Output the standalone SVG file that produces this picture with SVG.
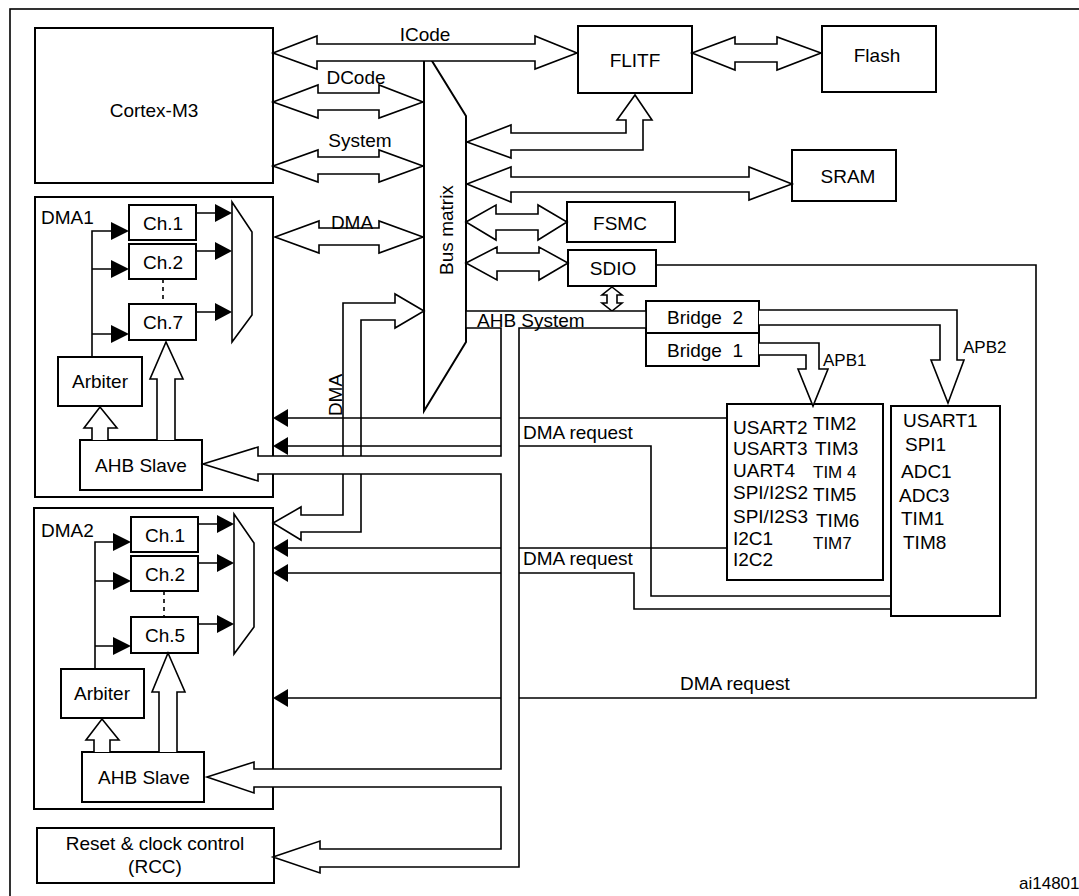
<svg xmlns="http://www.w3.org/2000/svg" width="1079" height="896" viewBox="0 0 1079 896">
<style>
.b{fill:#fff;stroke:#000;stroke-width:2}
.a{fill:#fff;stroke:#000;stroke-width:1.6;stroke-linejoin:miter}
.l{fill:none;stroke:#000;stroke-width:1.6}
.h{fill:#000;stroke:none}
text{font-family:"Liberation Sans",Arial,sans-serif;font-size:19px;fill:#000;dominant-baseline:central}
.c{text-anchor:middle}
.s{font-size:17px}
</style>
<rect x="0" y="0" width="1079" height="896" fill="#fff"/>
<rect x="10" y="9" width="1100" height="1000" class="l" stroke-width="2"/>

<g id="cortex"><rect x="35" y="28" width="238" height="155" class="b"/><text x="154" y="110" class="c">Cortex-M3</text></g>
<g id="flitf"><rect x="578" y="26" width="114" height="67" class="b"/><text x="635" y="60" class="c">FLITF</text></g>
<g id="flash"><rect x="822" y="26" width="114" height="66" class="b"/><text x="877" y="55" class="c">Flash</text></g>
<g id="sram"><rect x="792" y="150" width="104" height="51" class="b"/><text x="848" y="176" class="c">SRAM</text></g>
<g id="fsmc"><rect x="567" y="202" width="108" height="40" class="b"/><text x="620" y="223" class="c">FSMC</text></g>
<g id="sdio"><rect x="568" y="250" width="88" height="36" class="b"/><text x="613" y="268" class="c">SDIO</text></g>
<g id="busmatrix"><polygon points="424,48 466,116 466,342 424,411" class="b" stroke-width="1.6"/><text transform="translate(446,230) rotate(-90)" class="c">Bus matrix</text></g>
<g id="bridge2"><rect x="646" y="301" width="113" height="32" class="b"/><text x="705" y="317" class="c" style="white-space:pre">Bridge  2</text></g>
<g id="bridge1"><rect x="646" y="333" width="113" height="33" class="b"/><text x="705" y="350" class="c" style="white-space:pre">Bridge  1</text></g>

<g id="apb1box"><rect x="727" y="404" width="156" height="176" class="b"/>
<text x="733" y="427">USART2</text><text x="733" y="448">USART3</text><text x="733" y="470">UART4</text><text x="733" y="492">SPI/I2S2</text><text x="733" y="516">SPI/I2S3</text><text x="733" y="538">I2C1</text><text x="733" y="559">I2C2</text>
<text x="813" y="423">TIM2</text><text x="815" y="448">TIM3</text><text x="813" y="472" class="s">TIM 4</text><text x="813" y="494">TIM5</text><text x="816" y="520">TIM6</text><text x="813" y="543" class="s">TIM7</text></g>
<g id="apb2box"><rect x="891" y="406" width="109" height="210" class="b"/>
<text x="903" y="420">USART1</text><text x="905" y="444">SPI1</text><text x="901" y="471">ADC1</text><text x="899" y="495">ADC3</text><text x="901" y="518">TIM1</text><text x="903" y="542">TIM8</text></g>

<g id="dma1"><rect x="35" y="197" width="238" height="300" class="b"/>
<text x="41" y="217">DMA1</text>
<rect x="129" y="205" width="67" height="35" class="b"/><text x="163" y="223" class="c">Ch.1</text>
<rect x="129" y="244" width="67" height="35" class="b"/><text x="163" y="262" class="c">Ch.2</text>
<rect x="129" y="304" width="67" height="36" class="b"/><text x="163" y="322" class="c">Ch.7</text>
<line x1="163" y1="279" x2="163" y2="304" class="l" stroke-dasharray="4,4"/>
<polygon points="232,202 252,232 252,315 232,342" class="a"/>
<rect x="58" y="357" width="84" height="49" class="b"/><text x="100" y="381" class="c">Arbiter</text>
<rect x="80" y="440" width="122" height="50" class="b"/><text x="141" y="465" class="c">AHB Slave</text>
<path d="M92,357V231H112M92,269H112M92,334H112" class="l"/>
<polygon points="111,222 129,231 111,240" class="h"/><polygon points="111,260 129,269 111,278" class="h"/><polygon points="111,325 129,334 111,343" class="h"/>
<path d="M196,213H216M196,251H216M196,312H216" class="l"/>
<polygon points="215,204 232,213 215,222" class="h"/><polygon points="215,242 232,251 215,260" class="h"/><polygon points="215,303 232,312 215,321" class="h"/>
<path d="M92,440V428H84L100,407L117,428H108V440" class="a"/>
<path d="M157,440V379H150L166,342L183,379H175V440" class="a"/>
</g>

<g id="dma2"><rect x="34" y="508" width="239" height="301" class="b"/>
<text x="41" y="530">DMA2</text>
<rect x="131" y="517" width="67" height="35" class="b"/><text x="165" y="535" class="c">Ch.1</text>
<rect x="131" y="556" width="67" height="35" class="b"/><text x="165" y="574" class="c">Ch.2</text>
<rect x="131" y="617" width="67" height="36" class="b"/><text x="165" y="635" class="c">Ch.5</text>
<line x1="164" y1="591" x2="164" y2="617" class="l" stroke-dasharray="4,4"/>
<polygon points="234,514 254,543 254,627 234,654" class="a"/>
<rect x="61" y="669" width="83" height="49" class="b"/><text x="102" y="693" class="c">Arbiter</text>
<rect x="82" y="752" width="122" height="50" class="b"/><text x="144" y="777" class="c">AHB Slave</text>
<path d="M95,669V542H114M95,581H114M95,646H114" class="l"/>
<polygon points="113,533 131,542 113,551" class="h"/><polygon points="113,572 131,581 113,590" class="h"/><polygon points="113,637 131,646 113,655" class="h"/>
<path d="M198,524H218M198,563H218M198,624H218" class="l"/>
<polygon points="217,515 234,524 217,533" class="h"/><polygon points="217,554 234,563 217,572" class="h"/><polygon points="217,615 234,624 217,633" class="h"/>
<path d="M94,752V740H86L102,719L119,740H110V752" class="a"/>
<path d="M159,752V692H152L168,653L185,692H177V752" class="a"/>
</g>

<g id="rcc"><rect x="37" y="828" width="237" height="55" class="b"/><text x="155" y="843" class="c">Reset &amp; clock control</text><text x="155" y="866" class="c">(RCC)</text></g>

<g id="connectors">
<polygon points="273,53 317,36 317,44 535,44 535,36 577,53 535,69 535,61 317,61 317,69" class="a"/>
<polygon points="273,102 318,85 318,93 379,93 379,85 423,102 379,118 379,110 318,110 318,118" class="a"/>
<polygon points="273,166 318,150 318,157 379,157 379,150 423,166 379,182 379,174 318,174 318,182" class="a"/>
<polygon points="275,237 319,221 319,228 379,228 379,221 423,237 379,253 379,245 319,245 319,253" class="a"/>
<polygon points="692,53 735,37 735,44 777,44 777,37 821,53 777,70 777,62 735,62 735,70" class="a"/>
<polygon points="467,142 511,125 511,133 626,133 626,120 617,120 635,95 652,120 643,120 643,150 511,150 511,158" class="a"/>
<polygon points="467,184 511,167 511,177 749,177 749,167 792,184 749,200 749,192 511,192 511,202" class="a"/>
<polygon points="466,222 496,205 496,214 538,214 538,205 567,222 538,240 538,230 496,230 496,240" class="a"/>
<polygon points="466,263 497,247 497,253 539,253 539,247 568,263 539,280 539,271 497,271 497,280" class="a"/>
<polygon points="612,287 622,295 617,295 617,303 622,303 612,311 602,303 607,303 607,295 602,295" class="a"/>
<path d="M424,311L395,294V303H343V515H301V507L273,523L301,540V532H361V320H395V328Z" class="a"/>
<path d="M727,418H287M891,596H651V446H287M727,548H287M891,609H634V573H287M656,265H1036V698H287" class="l"/>
<polygon points="273,418 288,409 288,427" class="h"/><polygon points="273,446 288,437 288,455" class="h"/>
<polygon points="273,548 288,539 288,557" class="h"/><polygon points="273,573 288,564 288,582" class="h"/>
<polygon points="273,698 288,689 288,707" class="h"/>
<path d="M466,311H646V328H519V867H320V873L273,857L320,841V849H501V787H254V793L207,777L254,762V769H501V474H258V481L203,464L258,447V456H501V328H466Z" class="a"/>
<path d="M759,343H819V369H828L813,406L798,369H806V355H759" class="a"/>
<path d="M759,310H957V360H964L948,403L931,360H940V325H759" class="a"/>
</g>

<g id="labels">
<text x="425" y="34" class="c">ICode</text>
<text x="356" y="77" class="c">DCode</text>
<text x="360" y="140" class="c">System</text>
<text x="352" y="222" class="c">DMA</text>
<text transform="translate(335,395) rotate(-90)" class="c">DMA</text>
<text x="477" y="320">AHB System</text>
<text x="823" y="360" class="s">APB1</text>
<text x="963" y="347" class="s">APB2</text>
<text x="523" y="432">DMA request</text>
<text x="523" y="558">DMA request</text>
<text x="680" y="683">DMA request</text>
<text x="1019" y="883" class="s">ai14801</text>
</g>
</svg>
